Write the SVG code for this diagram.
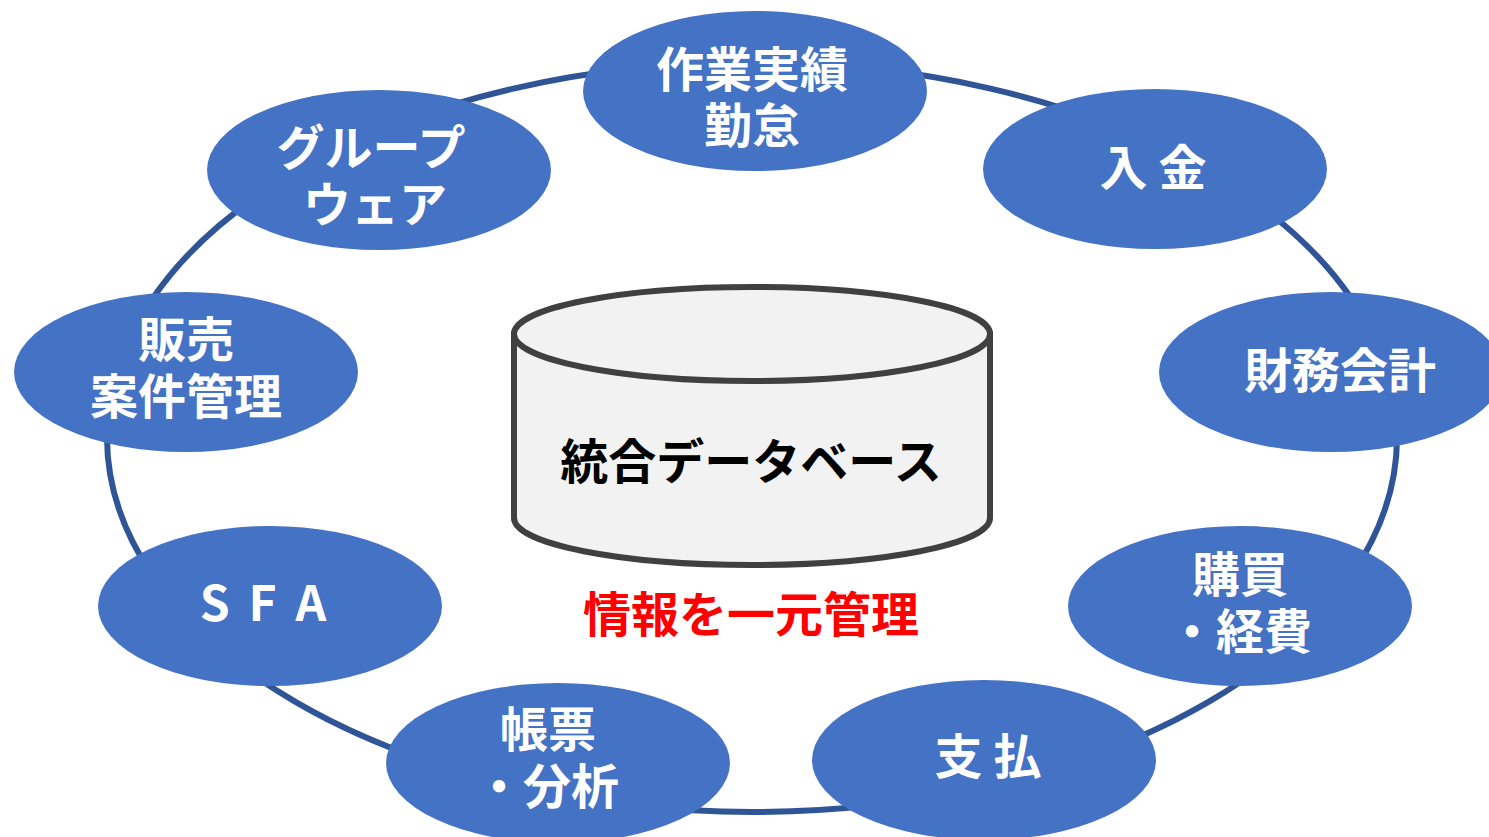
<svg xmlns="http://www.w3.org/2000/svg" width="1489" height="837" viewBox="0 0 1489 837">
<style>
.node{fill:#4472C4}
.lbl{font-family:"Noto Sans CJK JP","Noto Sans",sans-serif;font-weight:bold;font-size:48px;fill:#FFFFFF;text-anchor:middle}
.ring{fill:none;stroke:#2F5597;stroke-width:6}
.cyl{fill:#F2F2F2;stroke:#404040;stroke-width:6}
.big{font-family:"Noto Sans CJK JP","Noto Sans",sans-serif;font-weight:bold;font-size:48px;text-anchor:middle}
</style>
<rect width="1489" height="837" fill="#FFFFFF"/>
<g id="connectors">
<ellipse class="ring" cx="752" cy="437" rx="645" ry="375"/>
</g>
<g id="database">
<path class="cyl" d="M514,334 L514,518 A238,47 0 0 0 990,518 L990,334 Z"/>
<ellipse class="cyl" cx="752" cy="334" rx="238" ry="47"/>
<text class="big" x="751" y="479" fill="#000000">統合データベース</text>
</g>
<g id="caption">
<text class="big" x="751" y="632" fill="#FF0000">情報を一元管理</text>
</g>
<g id="node-sagyo">
<ellipse class="node" cx="755" cy="91" rx="172" ry="80"/>
<text class="lbl" x="752" y="87">作業実績<tspan x="752" y="143">勤怠</tspan></text>
</g>
<g id="node-nyukin">
<ellipse class="node" cx="1155" cy="169" rx="172" ry="80"/>
<text class="lbl" x="1153" y="185">入 金</text>
</g>
<g id="node-zaimu">
<ellipse class="node" cx="1331" cy="372" rx="172" ry="80"/>
<text class="lbl" x="1340" y="388">財務会計</text>
</g>
<g id="node-kobai">
<ellipse class="node" cx="1240" cy="606" rx="172" ry="80"/>
<text class="lbl" x="1240" y="592">購買<tspan x="1240" y="649">・経費</tspan></text>
</g>
<g id="node-shiharai">
<ellipse class="node" cx="984" cy="760" rx="172" ry="80"/>
<text class="lbl" x="988" y="774">支 払</text>
</g>
<g id="node-chohyo">
<ellipse class="node" cx="558" cy="763" rx="172" ry="80"/>
<text class="lbl" x="548" y="747">帳票<tspan x="547" y="804">・分析</tspan></text>
</g>
<g id="node-sfa">
<ellipse class="node" cx="270" cy="606" rx="172" ry="80"/>
<text class="lbl" x="265" y="621" letter-spacing="4">S F A</text>
</g>
<g id="node-hanbai">
<ellipse class="node" cx="186" cy="372" rx="172" ry="80"/>
<text class="lbl" x="186" y="357">販売<tspan x="186" y="414">案件管理</tspan></text>
</g>
<g id="node-groupware">
<ellipse class="node" cx="379" cy="170" rx="172" ry="80"/>
<text class="lbl" x="371" y="165">グループ<tspan x="375" y="222">ウェア</tspan></text>
</g>
</svg>
